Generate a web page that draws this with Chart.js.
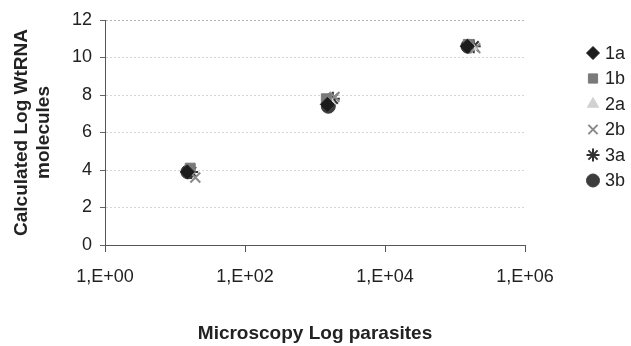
<!DOCTYPE html>
<html>
<head>
<meta charset="utf-8">
<script src="https://cdn.jsdelivr.net/npm/chart.js@4/dist/chart.umd.min.js"></script>
<style>
  html, body { margin: 0; padding: 0; background: #fff; }
  #wrap { width: 631px; height: 346px; }
</style>
</head>
<body>
<div id="wrap"><canvas id="myChart" width="631" height="346"></canvas></div>
<script>
// series names
const seriesNames = ['1a', '1b', '2a', '2b', '3a', '3b'];

// microscopy parasites (x) and calculated log WtRNA molecules (y), per series
const x1a = [15, 1500, 150000];   const y1a = [3.9, 7.5, 10.6];
const x1b = [16.5, 1450, 155000]; const y1b = [4.1, 7.8, 10.7];
const x2a = [16, 1600, 170000];   const y2a = [4.0, 7.7, 10.6];
const x2b = [19.5, 1900, 195000]; const y2b = [3.6, 7.9, 10.5];
const x3a = [17, 1800, 185000];   const y3a = [3.9, 7.8, 10.6];
const x3b = [15.3, 1550, 153000]; const y3b = [3.9, 7.4, 10.6];

const xTickValues = [1, 100, 10000, 1000000];
const xTickLabels = ['1,E+00', '1,E+02', '1,E+04', '1,E+06'];

const FONT = "'Liberation Sans', Arial, sans-serif";

const toPoints = (xs, ys) => xs.map((x, i) => ({ x: x, y: ys[i] }));

const styles = [
    { pointStyle: 'rectRot', color: '#1c1c1c', r: 7, bw: 1 },
    { pointStyle: 'rect', color: '#7a7a7a', r: 7, bw: 1 },
    { pointStyle: 'triangle', color: '#d2d2d2', r: 7, bw: 1 },
    { pointStyle: 'crossRot', color: '#8a8a8a', r: 7, bw: 2 },
    { pointStyle: 'star', color: '#333333', r: 7, bw: 2 },
    { pointStyle: 'circle', color: '#3c3c3c', r: 7, bw: 1 }
];

const allData = [
    toPoints(x1a, y1a), toPoints(x1b, y1b), toPoints(x2a, y2a),
    toPoints(x2b, y2b), toPoints(x3a, y3a), toPoints(x3b, y3b)
];

const datasets = seriesNames.map((name, i) => ({
    label: name,
    data: allData[i],
    pointStyle: styles[i].pointStyle,
    backgroundColor: styles[i].color,
    borderColor: styles[i].color,
    borderWidth: styles[i].bw,
    pointRadius: styles[i].r,
    pointHoverRadius: styles[i].r
}));

// legend drawn at the right side, like the original
const sideLegend = {
    id: 'sideLegend',
    afterDraw(chart) {
        const ctx = chart.ctx;
        ctx.save();
        ctx.font = '18px ' + FONT;
        ctx.textBaseline = 'middle';
        ctx.textAlign = 'left';
        chart.data.datasets.forEach((ds, i) => {
            const y = 53 + i * 25.5;
            ctx.fillStyle = ds.backgroundColor;
            ctx.strokeStyle = ds.borderColor;
            ctx.lineWidth = ds.borderWidth;
            Chart.helpers.drawPoint(ctx, {
                pointStyle: ds.pointStyle,
                radius: 6.5,
                borderWidth: ds.borderWidth
            }, 593, y);
            ctx.fillStyle = '#222';
            ctx.fillText(ds.label, 605, y + 1);
        });
        ctx.restore();
    }
};

const ctx = document.getElementById('myChart').getContext('2d');

const myChart = new Chart(ctx, {
    type: 'scatter',
    data: { datasets: datasets },
    options: {
        responsive: false,
        animation: false,
        layout: { padding: { top: 20, right: 106, left: 0, bottom: 0 } },
        plugins: {
            legend: { display: false },
            tooltip: { enabled: false }
        },
        scales: {
            x: {
                type: 'logarithmic',
                min: 1,
                max: 1000000,
                afterBuildTicks: (scale) => {
                    scale.ticks = xTickValues.map(v => ({ value: v }));
                },
                afterFit: (scale) => { scale.height = 101; },
                ticks: {
                    color: '#222',
                    font: { family: FONT, size: 18 },
                    padding: 14,
                    maxRotation: 0,
                    autoSkip: false,
                    callback: (value) => {
                        const i = xTickValues.indexOf(value);
                        return i >= 0 ? xTickLabels[i] : '';
                    }
                },
                grid: {
                    drawOnChartArea: false,
                    tickLength: 7,
                    tickColor: '#555'
                },
                border: { color: '#555', width: 1 },
                title: {
                    display: true,
                    text: 'Microscopy Log parasites',
                    color: '#222',
                    font: { family: FONT, size: 19, weight: 'bold' },
                    padding: { top: 0, bottom: 1 }
                }
            },
            y: {
                min: 0,
                max: 12,
                afterFit: (scale) => { scale.width = 105; },
                ticks: {
                    stepSize: 2,
                    color: '#222',
                    font: { family: FONT, size: 18 },
                    padding: 8
                },
                grid: {
                    color: (c) => (c.tick && c.tick.value === 12) ? '#b4b4b4' : '#d6d6d6',
                    tickLength: 5,
                    tickColor: '#666',
                    tickBorderDash: []
                },
                border: { color: '#555', width: 1, dash: [2, 2] },
                title: {
                    display: true,
                    text: ['Calculated Log WtRNA', 'molecules'],
                    color: '#222',
                    font: { family: FONT, size: 19, weight: 'bold', lineHeight: 1.2 },
                    padding: { top: 10, bottom: 0 }
                }
            }
        }
    },
    plugins: [sideLegend]
});
</script>
</body>
</html>
